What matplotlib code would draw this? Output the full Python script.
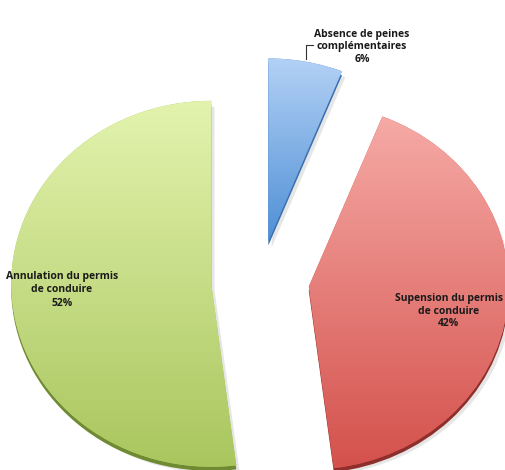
import numpy as np
import matplotlib.pyplot as plt
from matplotlib.colors import LinearSegmentedColormap

# --- donnees ---
labels = ["Absence de peines\ncomplémentaires", "Supension du permis\nde conduire",
          "Annulation du permis\nde conduire"]
values = [6, 42, 52]

# couleurs (haut -> bas du degradé) et couleur du flanc 3D
top_cols = ["#b3d1f5", "#f6aaa6", "#e3f3ae"]
bot_cols = ["#4f8fd6", "#d4514c", "#a9c65e"]
side_cols = ["#3a6fae", "#8e2f2b", "#6f8a33"]

# --- figure (coordonnees en pixels, y vers le haut) ---
W, H = 506, 470
sx = 1.093                       # aplatissement du disque (vue 3D)
fig = plt.figure(figsize=(W / 100, H / 100), dpi=100)
ax = fig.add_axes([0, 0, 1, 1])

R = 183
center = (238, 189)
explode = [0.22 * R, 0.245 * R, 0.245 * R]   # pie() prend l'ecart en unites absolues
kw = dict(startangle=90, counterclock=False, radius=R, explode=explode)

# ombre portee + flanc 3D
shadow, _ = ax.pie(values, colors=["#cfcfcf"] * 3, center=(center[0] + 3, center[1] - 6), **kw)
for w in shadow:
    w.set_alpha(0.5)
side, _ = ax.pie(values, colors=side_cols, center=(center[0], center[1] - 4), **kw)

wedges, _ = ax.pie(values, colors=bot_cols, center=center, wedgeprops=dict(linewidth=0), **kw)

# degradé vertical dans chaque part
grad = np.linspace(0, 1, 256).reshape(-1, 1)
for w, c1, c2 in zip(wedges, top_cols, bot_cols):
    cmap = LinearSegmentedColormap.from_list("g", [c2, c1])
    cx, cy = w.center
    t = np.deg2rad(np.linspace(w.theta1, w.theta2, 100))
    xs = np.concatenate([[cx], cx + R * np.cos(t)])
    ys = np.concatenate([[cy], cy + R * np.sin(t)])
    im = ax.imshow(grad, cmap=cmap, extent=(xs.min(), xs.max(), ys.min(), ys.max()),
                   aspect="auto", origin="lower", zorder=w.get_zorder() + 0.1)
    im.set_clip_path(w)

ax.set_xlim(0, W / sx)
ax.set_ylim(0, H)
ax.set_aspect("auto")
ax.axis("off")

# --- etiquettes ---
fnt = dict(fontsize=7.5, fontweight="bold", family=["Open Sans", "DejaVu Sans"],
           ha="center", va="center", multialignment="center", color="#1a1a1a",
           linespacing=1.25, zorder=10)
pos = [(362, 47), (449, 311), (62, 290)]
for (px, py), lab, v in zip(pos, labels, values):
    ax.text(px / sx, H - py, f"{lab}\n{v}%", **fnt)

# trait de rappel pour la petite part
ax.plot([313 / sx, 306 / sx, 306 / sx], [H - 45, H - 45, H - 59], color="#333333", lw=0.8, zorder=10)

fig.savefig("out.png", dpi=100)
